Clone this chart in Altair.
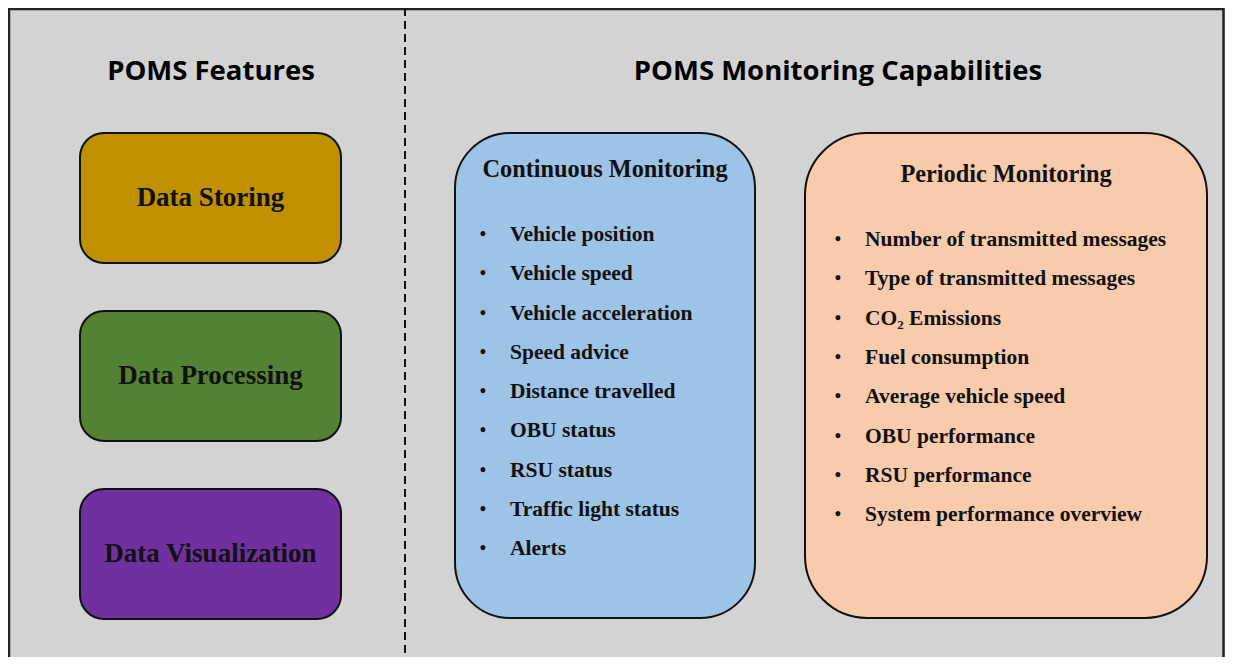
import altair as alt
import pandas as pd

# ---- content ----
section_titles = ["POMS Features", "POMS Monitoring Capabilities"]
features = ["Data Storing", "Data Processing", "Data Visualization"]
feature_colors = ["#BF9000", "#548235", "#7030A0"]
panel_titles = ["Continuous Monitoring", "Periodic Monitoring"]
panel_colors = ["#9DC3E6", "#F8CBAD"]
continuous_items = ["Vehicle position", "Vehicle speed", "Vehicle acceleration",
                    "Speed advice", "Distance travelled", "OBU status",
                    "RSU status", "Traffic light status", "Alerts"]
periodic_items = ["Number of transmitted messages", "Type of transmitted messages",
                  "CO\u2082 Emissions", "Fuel consumption", "Average vehicle speed",
                  "OBU performance", "RSU performance", "System performance overview"]

# ---- layout (pixel coordinates of the picture) ----
W, H = 1217, 649
X0, Y0 = 8, 8
xs = alt.Scale(domain=[X0, X0 + W], nice=False, zero=False)
ys = alt.Scale(domain=[Y0, Y0 + H], nice=False, zero=False, reverse=True)
BG = "#D3D3D3"
SERIF = "Liberation Serif"
SANS = "Open Sans"

def X(f="x"):
    return alt.X(f"{f}:Q", scale=xs, axis=None)

def Y(f="y"):
    return alt.Y(f"{f}:Q", scale=ys, axis=None)

layers = []

# outer frame
frame = pd.DataFrame({"x": [X0 + 1], "x2": [X0 + W - 1.5], "y": [Y0 + 1], "y2": [Y0 + H + 20]})
layers.append(alt.Chart(frame).mark_rect(fill=BG, stroke="#222222", strokeWidth=2.5).encode(
    x=X(), x2="x2:Q", y=Y(), y2="y2:Q"))

# dashed divider
div = pd.DataFrame({"x": [405], "y": [Y0], "y2": [Y0 + H]})
layers.append(alt.Chart(div).mark_rule(color="#111111", strokeWidth=2, strokeDash=[8, 5]).encode(
    x=X(), y=Y(), y2="y2:Q"))

# section titles
st = pd.DataFrame({"t": section_titles, "x": [211, 838], "y": [72, 72]})
layers.append(alt.Chart(st).mark_text(font=SANS, fontSize=27.5, fontWeight="bold", color="#000000",
                                      align="center", baseline="middle").encode(
    x=X(), y=Y(), text="t:N"))

# feature boxes
fb = pd.DataFrame({"t": features, "c": feature_colors,
                   "x": [80] * 3, "x2": [341] * 3,
                   "y": [133, 311, 489], "y2": [263, 441, 619]})
fb["cx"] = (fb.x + fb.x2) / 2
fb["cy"] = (fb.y + fb.y2) / 2
layers.append(alt.Chart(fb).mark_rect(cornerRadius=24, stroke="#111111", strokeWidth=2).encode(
    x=X(), x2="x2:Q", y=Y(), y2="y2:Q", fill=alt.Fill("c:N", scale=None)))
layers.append(alt.Chart(fb).mark_text(font=SERIF, fontSize=27, fontWeight="bold", color="#111111",
                                      align="center", baseline="middle").encode(
    x=X("cx"), y=Y("cy"), text="t:N"))

# monitoring panels
pb = pd.DataFrame({"t": panel_titles, "c": panel_colors,
                   "x": [455, 805], "x2": [755, 1207], "y": [133, 133], "y2": [618, 618],
                   "cx": [605, 1006], "ty": [170, 175]})
layers.append(alt.Chart(pb.iloc[[0]]).mark_rect(cornerRadius=55, stroke="#111111", strokeWidth=2).encode(
    x=X(), x2="x2:Q", y=Y(), y2="y2:Q", fill=alt.Fill("c:N", scale=None)))
layers.append(alt.Chart(pb.iloc[[1]]).mark_rect(cornerRadius=62, stroke="#111111", strokeWidth=2).encode(
    x=X(), x2="x2:Q", y=Y(), y2="y2:Q", fill=alt.Fill("c:N", scale=None)))
layers.append(alt.Chart(pb).mark_text(font=SERIF, fontSize=24.3, fontWeight="bold", color="#111111",
                                      align="center", baseline="middle").encode(
    x=X("cx"), y=Y("ty"), text="t:N"))

# bullet lists
ci = pd.DataFrame({"t": continuous_items,
                   "bx": 483, "x": 510,
                   "y": [235 + 39.25 * i for i in range(len(continuous_items))]})
pi = pd.DataFrame({"t": periodic_items,
                   "bx": 838, "x": 865,
                   "y": [240 + 39.3 * i for i in range(len(periodic_items))]})
items = pd.concat([ci, pi], ignore_index=True)
items["b"] = "\u2022"
layers.append(alt.Chart(items).mark_text(font=SERIF, fontSize=21.5, fontWeight="bold", color="#111111",
                                         align="left", baseline="middle").encode(
    x=X(), y=Y(), text="t:N"))
layers.append(alt.Chart(items).mark_text(font=SERIF, fontSize=18, fontWeight="bold", color="#111111",
                                         align="center", baseline="middle").encode(
    x=X("bx"), y=Y(), text="b:N"))

chart = alt.layer(*layers).properties(
    width=W, height=H, padding=0, autosize=alt.AutoSizeParams(type="none"),
    background=BG
).configure_view(stroke=None)

chart.save("out.html", embed_options={"renderer": "svg", "actions": False})
